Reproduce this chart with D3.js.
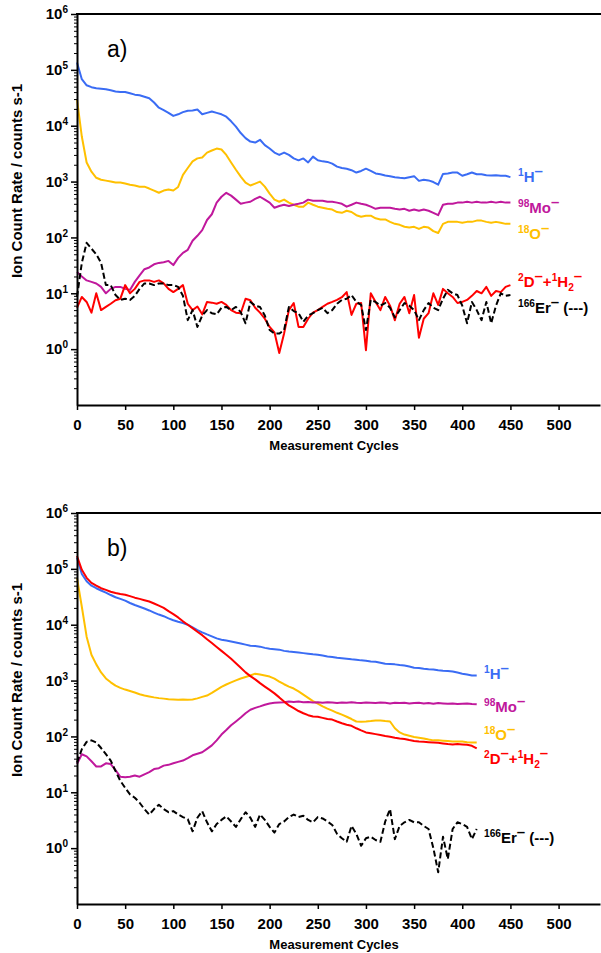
<!DOCTYPE html>
<html>
<head>
<meta charset="utf-8">
<script src="https://cdnjs.cloudflare.com/ajax/libs/d3/7.8.5/d3.min.js"></script>
<style>
  body { margin: 0; background: #fff; }
  svg { display: block; font-family: "Liberation Sans", Arial, sans-serif; }
</style>
</head>
<body>
<div id="chart"></div>
<script>
var width = 601, height = 953;

var colours = {h: '#3a6cf4', o: '#ffc000', mo: '#c0189c', d: '#ff0000', er: '#000000'};

// panel a) ion count rates, one value every 5 measurement cycles (0..450)
var cyclesA = d3.range(0, 451, 5);
var hA = [135000, 68000, 53000, 49000, 47000, 46000, 45000, 43000, 41000, 40000,
  40000, 38000, 36000, 35000, 33000, 31000, 26000, 21000, 19000, 17000,
  15000, 16000, 17500, 18500, 18700, 19500, 16000, 17000, 18000, 17000,
  16000, 14500, 12000, 9600, 7400, 6000, 5200, 5000, 5600, 4500,
  3900, 3300, 3000, 3300, 3000, 2600, 2400, 2600, 2200, 2800,
  2400, 2300, 2250, 2100, 1850, 1750, 1700, 1600, 1450, 1550,
  1700, 1550, 1400, 1350, 1280, 1250, 1200, 1170, 1150, 1200,
  1250, 1030, 1080, 1050, 980, 880, 1370, 1400, 1450, 1450,
  1270, 1350, 1450, 1350, 1350, 1300, 1280, 1300, 1270, 1270,
  1200];
var oA = [29500, 6400, 2200, 1500, 1170, 1080, 1040, 1000, 960, 960,
  920, 880, 850, 810, 810, 750, 690, 630, 690, 720,
  690, 800, 1320, 1750, 2300, 2600, 2700, 3300, 3600, 3900,
  3750, 3000, 2200, 1630, 1230, 960, 850, 920, 1000, 810,
  610, 475, 435, 475, 420, 385, 355, 355, 420, 385,
  355, 340, 325, 315, 285, 276, 300, 285, 250, 235,
  245, 245, 220, 210, 210, 190, 175, 168, 155, 150,
  155, 142, 155, 150, 130, 120, 175, 190, 190, 190,
  183, 190, 190, 200, 200, 190, 183, 190, 183, 175,
  175];
var moA = [24, 20, 17, 16, 15, 13, 10, 12, 13, 13,
  12, 11.5, 16, 21, 27, 29, 33, 35, 36, 38,
  32, 43, 53, 60, 87, 107, 135, 205, 260, 420,
  535, 630, 560, 475, 400, 420, 435, 490, 535, 475,
  420, 340, 365, 385, 365, 385, 400, 420, 475, 455,
  455, 455, 435, 435, 420, 400, 355, 385, 420, 400,
  385, 355, 325, 340, 340, 340, 325, 315, 325, 300,
  315, 300, 315, 300, 276, 250, 385, 400, 400, 420,
  420, 435, 420, 435, 420, 420, 435, 420, 435, 420,
  420];
var dA = [5.5, 8.6, 7, 4.5, 10, 5, 5.7, 6.5, 7.5, 8,
  14, 10, 12, 16, 17, 17, 16, 17, 15, 12,
  10.5, 12, 14, 6.5, 5, 5.8, 4.2, 7, 6.8, 6.5,
  7, 6.2, 5, 4.5, 4.4, 8, 7.5, 5.5, 4.5, 3.5,
  2.5, 2.0, 0.85, 1.9, 5, 6.7, 2.5, 2.5, 3.5, 4.5,
  5, 5.7, 6.5, 7, 7.6, 8.5, 10.5, 4.1, 6.5, 6.7,
  0.96, 10, 7, 5, 8.6, 6, 3.3, 6.5, 8.6, 4.4,
  9.3, 1.6, 3.5, 4.4, 10, 6.2, 12, 10, 8.6, 6.7,
  7, 7.6, 9, 11, 10, 13, 9, 11, 10.5, 13,
  14];
var erA = [8.6, 35, 80, 63, 50, 35, 14, 14, 9.3, 7.6,
  8, 7.6, 9, 12, 15, 15, 14, 15, 15, 14,
  14, 13, 9, 3.3, 5, 2.5, 4, 5, 4.4, 4.2,
  5.5, 5.7, 5, 5.7, 4.6, 2.9, 7, 6, 5.7, 4,
  2.2, 1.9, 1.9, 2.2, 5.7, 4.8, 4.4, 3.1, 4, 4.4,
  5, 5.5, 4.4, 5, 6.5, 7.6, 8, 9.3, 7, 6.2,
  2.2, 7.6, 7, 6, 6.7, 5.5, 3.7, 5, 6.7, 6,
  5, 3.3, 5, 6.7, 5.5, 5, 8, 11.5, 10, 9.3,
  6, 2.9, 7, 5, 3.3, 7, 2.9, 6, 10, 9,
  9.3];

// panel b) one value every 5 measurement cycles (0..415)
var cyclesB = d3.range(0, 416, 5);
var hB = [158000, 81000, 60000, 50000, 45000, 41000, 37500, 34000, 31000, 29000,
  27000, 24500, 22500, 21000, 19500, 18000, 16500, 15200, 14200, 13000,
  12000, 11300, 10700, 10000, 9000, 8000, 7300, 6700, 6200, 5700,
  5400, 5200, 5000, 4800, 4600, 4400, 4200, 4150, 4050, 3850,
  3700, 3650, 3580, 3400, 3300, 3250, 3170, 3100, 3030, 2950,
  2900, 2800, 2700, 2650, 2560, 2500, 2450, 2400, 2370, 2300,
  2270, 2200, 2170, 2080, 2000, 1980, 1950, 1900, 1860, 1780,
  1700, 1680, 1630, 1600, 1580, 1530, 1500, 1480, 1450, 1390,
  1330, 1280, 1230, 1230];
var oB = [69000, 21000, 6100, 2900, 1950, 1400, 1090, 930, 810, 740,
  690, 650, 610, 570, 540, 520, 500, 485, 475, 465,
  460, 455, 460, 455, 460, 480, 510, 540, 600, 680,
  770, 850, 930, 1010, 1090, 1160, 1230, 1330, 1280, 1230,
  1180, 1080, 960, 860, 780, 720, 640, 560, 490, 430,
  385, 345, 315, 290, 265, 245, 225, 205, 185, 183,
  185, 188, 192, 193, 188, 185, 140, 118, 108, 103,
  98, 95, 92, 88, 85, 85, 84, 83, 81, 81,
  81, 79, 78, 78];
var moB = [32, 48, 44, 36, 29, 29, 33, 32, 25, 19,
  18.5, 19, 20, 19, 21, 23, 26, 27, 30, 31,
  33, 35, 37, 41, 46, 49, 52, 60, 69, 85,
  108, 130, 158, 185, 218, 260, 300, 325, 345, 370,
  390, 400, 405, 410, 420, 415, 420, 410, 415, 405,
  410, 400, 410, 405, 395, 405, 400, 410, 400, 395,
  405, 400, 395, 405, 400, 390, 400, 395, 400, 390,
  395, 400, 390, 395, 385, 395, 390, 385, 390, 380,
  385, 390, 380, 375];
var dB = [170000, 96000, 69000, 56000, 50000, 45000, 42000, 39000, 37000, 35500,
  34500, 32500, 30500, 29000, 27500, 26000, 24000, 22000, 20000, 17500,
  15500, 13500, 11500, 10000, 8700, 7500, 6500, 5500, 4700, 4000,
  3400, 2900, 2450, 2050, 1700, 1400, 1200, 1050, 900, 780,
  680, 590, 500, 420, 360, 320, 285, 260, 240, 228,
  225, 215, 205, 200, 185, 172, 162, 155, 140, 128,
  118, 114, 110, 106, 102, 99, 95, 92, 90, 86,
  83, 81, 80, 79, 78, 77, 75, 73, 72, 73,
  72, 71, 68, 61];
var erB = [34, 59, 80, 85, 78, 62, 48, 37, 24, 16,
  12, 9.2, 8, 6.5, 5, 4, 5, 6, 5, 4.4,
  4.6, 4, 3.6, 3.3, 2, 3.5, 4.6, 2.9, 2, 2.7,
  3.2, 3.7, 3, 2.4, 3.3, 4.4, 3.5, 2.4, 4, 3.2,
  2.4, 1.9, 2.7, 3, 3.6, 4, 3.6, 3.8, 3.2, 2.9,
  3.6, 3.4, 3, 2.6, 1.8, 1.5, 1.3, 2.5, 1.8, 1.1,
  1.5, 1.6, 1.4, 1.3, 3, 5, 1.45, 2.5, 2.9, 3.2,
  2.9, 2.9, 2.5, 2.2, 1.0, 0.37, 1.6, 0.64, 2.2, 2.9,
  2.7, 2.4, 1.45, 2.2];

var xTicks = [0, 50, 100, 150, 200, 250, 300, 350, 400, 450, 500];
var yMajor = [1, 10, 100, 1e3, 1e4, 1e5, 1e6];

// label texts: [text, kind] where kind is n(ormal), sup, sub or minus
var labelParts = {
  h: [['1', 'sup'], ['H', 'n'], ['\u2013', 'minus']],
  mo: [['98', 'sup'], ['Mo', 'n'], ['\u2013', 'minus']],
  o: [['18', 'sup'], ['O', 'n'], ['\u2013', 'minus']],
  d: [['2', 'sup'], ['D', 'n'], ['\u2013', 'minus'], ['+', 'n'], ['1', 'sup'], ['H', 'n'], ['2', 'sub'], ['\u2013', 'minus']],
  er: [['166', 'sup'], ['Er', 'n'], ['\u2013', 'minus'], [' (---)', 'n']]
};

var panels = [
  {name: 'a)', top: 14, bottom: 405, cycles: cyclesA,
   values: {h: hA, o: oA, mo: moA, d: dA, er: erA},
   labelX: 518, labelY: {h: 182, mo: 213, o: 239, d: 287, er: 313}},
  {name: 'b)', top: 513, bottom: 904, cycles: cyclesB,
   values: {h: hB, o: oB, mo: moB, d: dB, er: erB},
   labelX: 484, labelY: {h: 679, mo: 712, o: 740, d: 764, er: 843}}
];

var svg = d3.select('#chart').append('svg')
    .attr('width', width)
    .attr('height', height);

var xScale = d3.scaleLinear().domain([0, 543]).range([77, 600]);

function richText(sel, parts, size) {
  var shift = 0;
  parts.forEach(function(p) {
    var s = p[1] === 'sup' ? -6 : p[1] === 'sub' ? 4 : p[1] === 'minus' ? -6 : 0;
    var fs = (p[1] === 'sup' || p[1] === 'sub') ? size * 0.68 : size;
    sel.append('tspan')
        .attr('dy', s - shift)
        .style('font-size', fs + 'px')
        .text(p[0]);
    shift = s;
  });
}

panels.forEach(function(p) {
  var yScale = d3.scaleLog().domain([0.1, 1e6]).range([p.bottom, p.top]);
  var g = svg.append('g');

  var line = d3.line()
      .x(function(d) { return xScale(d[0]); })
      .y(function(d) { return yScale(d[1]); });

  ['h', 'o', 'mo', 'd', 'er'].forEach(function(key) {
    g.append('path')
        .datum(d3.zip(p.cycles, p.values[key]))
        .attr('fill', 'none')
        .attr('stroke', colours[key])
        .attr('stroke-width', 2)
        .attr('stroke-linejoin', 'round')
        .attr('stroke-dasharray', key === 'er' ? '6,3' : null)
        .attr('d', line);

    var t = g.append('text')
        .attr('x', p.labelX)
        .attr('y', p.labelY[key])
        .style('fill', colours[key])
        .style('font-weight', 'bold');
    richText(t, labelParts[key], 15);
  });

  // minor log ticks
  var minor = [];
  for (var k = -1; k < 6; k++) {
    for (var m = 2; m < 10; m++) minor.push(m * Math.pow(10, k));
  }
  g.append('g')
      .attr('transform', 'translate(77,0)')
      .call(d3.axisLeft(yScale).tickValues(minor).tickSize(3).tickSizeOuter(0).tickFormat(''))
      .call(function(a) { a.select('.domain').remove(); a.selectAll('line').attr('stroke-width', 1); });

  var yAxis = g.append('g')
      .attr('transform', 'translate(77,0)')
      .call(d3.axisLeft(yScale).tickValues(yMajor).tickSize(6).tickPadding(3).tickSizeOuter(0).tickFormat(''));
  yAxis.select('.domain').attr('stroke-width', 2);
  yAxis.selectAll('.tick line').attr('stroke-width', 1.5);
  yAxis.selectAll('.tick text')
      .attr('font-size', null)
      .style('font-weight', 'bold')
      .style('font-size', '15px')
      .each(function(d) {
        var t = d3.select(this);
        t.append('tspan').text('10');
        t.append('tspan').attr('dy', -6).style('font-size', '10px').text(Math.round(Math.log10(d)));
      });

  // top frame
  g.append('line')
      .attr('x1', 76).attr('x2', 601)
      .attr('y1', p.top).attr('y2', p.top)
      .attr('stroke', '#000')
      .attr('stroke-width', 2);

  var xAxis = g.append('g')
      .attr('transform', 'translate(0,' + p.bottom + ')')
      .call(d3.axisBottom(xScale).tickValues(xTicks).tickSize(5).tickPadding(9).tickSizeOuter(0));
  xAxis.select('.domain').attr('stroke-width', 2);
  xAxis.selectAll('.tick line').attr('stroke-width', 1.5);
  xAxis.selectAll('.tick text')
      .style('font-weight', 'bold')
      .style('font-size', '15px');

  g.append('text')
      .attr('x', 334)
      .attr('y', p.bottom + 45)
      .style('text-anchor', 'middle')
      .style('font-weight', 'bold')
      .style('font-size', '13px')
      .text('Measurement Cycles');

  g.append('text')
      .attr('transform', 'translate(22,' + (p.top + 167) + ') rotate(-90)')
      .style('text-anchor', 'middle')
      .style('font-weight', 'bold')
      .style('font-size', '15px')
      .text('Ion Count Rate / counts s-1');

  g.append('text')
      .attr('x', 107)
      .attr('y', p.top + 43)
      .style('font-size', '23px')
      .text(p.name);
});
</script>
</body>
</html>
